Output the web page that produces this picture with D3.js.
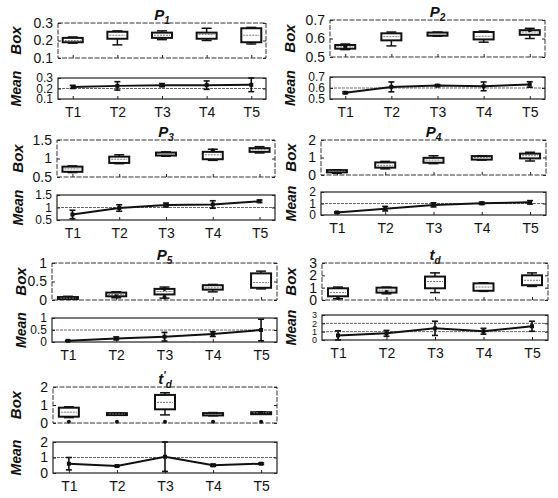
<!DOCTYPE html>
<html>
<head>
<meta charset="utf-8">
<script src="https://cdn.jsdelivr.net/npm/d3@7"></script>
<style>
  body { margin: 0; background: #fff; }
  svg { font-family: "Liberation Sans", Arial, sans-serif; }
</style>
</head>
<body>
<svg></svg>
<script>
let width = 558,
height = 498;

// categories
let periods = ["T1", "T2", "T3", "T4", "T5"];

// box stats per period: [lower whisker, q1, median, q3, upper whisker]
let boxP1 = [[0.185, 0.19, 0.20, 0.215, 0.22], [0.175, 0.21, 0.23, 0.25, 0.255], [0.205, 0.215, 0.23, 0.245, 0.255], [0.20, 0.21, 0.235, 0.245, 0.27], [0.18, 0.19, 0.23, 0.27, 0.275]];
let boxP2 = [[0.54, 0.545, 0.555, 0.565, 0.57], [0.56, 0.59, 0.61, 0.628, 0.635], [0.612, 0.615, 0.625, 0.632, 0.635], [0.58, 0.595, 0.612, 0.635, 0.64], [0.60, 0.62, 0.635, 0.645, 0.655]];
let boxP3 = [[0.62, 0.64, 0.72, 0.78, 0.80], [0.86, 0.88, 0.98, 1.05, 1.1], [1.06, 1.08, 1.12, 1.16, 1.18], [0.95, 0.98, 1.1, 1.18, 1.25], [1.15, 1.18, 1.24, 1.28, 1.32]];
let boxP4 = [[0.1, 0.15, 0.22, 0.28, 0.3], [0.35, 0.42, 0.55, 0.72, 0.78], [0.65, 0.7, 0.85, 0.98, 1.1], [0.85, 0.88, 1.0, 1.08, 1.1], [0.8, 0.95, 1.1, 1.22, 1.3]];
let boxP5 = [[0.02, 0.03, 0.05, 0.08, 0.1], [0.06, 0.1, 0.15, 0.2, 0.22], [0.05, 0.15, 0.23, 0.3, 0.35], [0.22, 0.28, 0.33, 0.4, 0.42], [0.3, 0.33, 0.47, 0.72, 0.78]];
let boxTd = [[0.1, 0.3, 0.6, 0.95, 1.05], [0.5, 0.6, 0.8, 1.0, 1.05], [0.6, 0.95, 1.5, 1.9, 2.2], [0.7, 0.75, 1.05, 1.35, 1.4], [1.1, 1.2, 1.6, 2.0, 2.2]];
let boxTpd = [[0.3, 0.35, 0.6, 0.85, 0.9], [0.44, 0.45, 0.5, 0.55, 0.56], [0.45, 0.76, 1.15, 1.56, 1.68], [0.4, 0.42, 0.48, 0.55, 0.58], [0.52, 0.53, 0.57, 0.6, 0.62]];

// outlier points: [period, value]
let outP1 = [];
let outP2 = [["T1", 0.555], ["T5", 0.645]];
let outP3 = [["T4", 1.22]];
let outP4 = [];
let outP5 = [["T2", 0.1], ["T3", 0.08], ["T3", 0.3]];
let outTd = [["T1", 0.15], ["T2", 0.65]];
let outTpd = [["T1", 0.07], ["T2", 0.07], ["T3", 0.07], ["T4", 0.07], ["T5", 0.07], ["T5", 0.57]];

// means and error half-widths
let meanP1 = [0.215, 0.225, 0.232, 0.232, 0.235];
let errP1 = [0.015, 0.04, 0.015, 0.04, 0.065];
let meanP2 = [0.557, 0.61, 0.622, 0.615, 0.632];
let errP2 = [0.008, 0.045, 0.008, 0.04, 0.025];
let meanP3 = [0.72, 0.98, 1.1, 1.12, 1.25];
let errP3 = [0.17, 0.13, 0.08, 0.15, 0.05];
let meanP4 = [0.22, 0.55, 0.88, 1.02, 1.1];
let errP4 = [0.05, 0.2, 0.18, 0.1, 0.15];
let meanP5 = [0.05, 0.15, 0.22, 0.33, 0.5];
let errP5 = [0.02, 0.06, 0.18, 0.1, 0.45];
let meanTd = [0.55, 0.8, 1.4, 1.05, 1.65];
let errTd = [0.55, 0.35, 0.85, 0.35, 0.6];
let meanTpd = [0.6, 0.45, 1.05, 0.5, 0.6];
let errTpd = [0.4, 0.04, 0.95, 0.07, 0.05];

// y ticks
let ticksP1 = [0.1, 0.2, 0.3];
let ticksP2 = [0.5, 0.6, 0.7];
let ticksP3 = [0.5, 1, 1.5];
let ticksP4 = [0, 1, 2];
let ticksP5 = [0, 0.5, 1];
let ticksTd = [0, 1, 2, 3];
let ticksTpd = [0, 1, 2];

// titles: [main letter, subscript, prime]
let titles = [["P", "1", false], ["P", "2", false], ["P", "3", false], ["P", "4", false], ["P", "5", false], ["t", "d", false], ["t", "d", true]];

// panel frames: left, right, box top/bottom, mean top/bottom, label x, mean tick font
let layout = [
  [58, 266, 23, 58, 78, 99, 16, 12],
  [330, 545, 20, 57, 77, 99, 290, 12],
  [57, 275, 140, 177, 195, 220, 18, 12],
  [321, 546, 140, 175, 192, 215, 291, 12],
  [52, 277, 263, 300, 318, 342, 21, 12],
  [322, 548, 263, 300, 315, 340, 291, 9],
  [53, 277, 387, 423, 442, 473, 16, 14]
];

let panels = [
  { box: boxP1, out: outP1, mean: meanP1, err: errP1, ticks: ticksP1 },
  { box: boxP2, out: outP2, mean: meanP2, err: errP2, ticks: ticksP2 },
  { box: boxP3, out: outP3, mean: meanP3, err: errP3, ticks: ticksP3 },
  { box: boxP4, out: outP4, mean: meanP4, err: errP4, ticks: ticksP4 },
  { box: boxP5, out: outP5, mean: meanP5, err: errP5, ticks: ticksP5 },
  { box: boxTd, out: outTd, mean: meanTd, err: errTd, ticks: ticksTd },
  { box: boxTpd, out: outTpd, mean: meanTpd, err: errTpd, ticks: ticksTpd }
];

let svg = d3.select("svg")
  .attr("width", width)
  .attr("height", height);

function styleAxis(g, size) {
  g.select(".domain").remove();
  g.selectAll(".tick line").attr("stroke", "#222");
  g.selectAll(".tick text")
    .attr("fill", "#111")
    .style("font-size", (size || 14) + "px");
}

panels.forEach((p, i) => {
  let [L, R, bTop, bBot, mTop, mBot, labX, mFont] = layout[i];
  let domain = [p.ticks[0], p.ticks[p.ticks.length - 1]];
  let g = svg.append("g");

  let xScale = d3.scalePoint().domain(periods).range([L, R]).padding(0.33);
  let yBox = d3.scaleLinear().domain(domain).range([bBot, bTop]);
  let yMean = d3.scaleLinear().domain(domain).range([mBot, mTop]);
  let fmt = d => String(d);

  // title
  let t = titles[i];
  let title = g.append("text")
    .attr("x", (L + R) / 2)
    .attr("y", bTop - 3)
    .attr("text-anchor", "middle")
    .style("font-weight", "bold")
    .style("font-style", "italic")
    .style("font-size", "15px")
    .attr("fill", "#111");
  title.append("tspan").text(t[0]);
  if (t[2]) title.append("tspan").attr("dy", -5).style("font-size", "10px").text("'");
  title.append("tspan").attr("dy", t[2] ? 9 : 4).style("font-size", "10px").text(t[1]);

  // ---- box panel ----
  g.append("g")
    .attr("transform", `translate(${L},0)`)
    .call(d3.axisLeft(yBox).tickValues(p.ticks).tickFormat(fmt).tickSizeInner(-3).tickSizeOuter(0).tickPadding(5))
    .call(styleAxis);
  g.append("g")
    .attr("transform", `translate(${R},0)`)
    .call(d3.axisRight(yBox).tickValues(p.ticks).tickFormat("").tickSizeInner(-3).tickSizeOuter(0))
    .call(styleAxis);
  g.append("g")
    .attr("transform", `translate(0,${bBot})`)
    .call(d3.axisBottom(xScale).tickFormat("").tickSizeInner(-3).tickSizeOuter(0))
    .call(styleAxis);

  g.append("rect")
    .attr("x", L).attr("y", bTop)
    .attr("width", R - L).attr("height", bBot - bTop)
    .attr("fill", "none")
    .attr("stroke", "#333")
    .attr("stroke-width", 1)
    .attr("stroke-dasharray", "5,1.5");

  let bw = 20;
  let boxes = g.append("g").selectAll("g")
    .data(p.box.map((b, k) => ({ t: periods[k], s: b })))
    .enter().append("g");
  boxes.append("line")
    .attr("x1", d => xScale(d.t)).attr("x2", d => xScale(d.t))
    .attr("y1", d => yBox(d.s[0])).attr("y2", d => yBox(d.s[4]))
    .attr("stroke", "#111").attr("stroke-width", 1.5);
  boxes.selectAll(".cap")
    .data(d => [[d.t, d.s[0]], [d.t, d.s[4]]])
    .enter().append("line")
    .attr("x1", d => xScale(d[0]) - 5).attr("x2", d => xScale(d[0]) + 5)
    .attr("y1", d => yBox(d[1])).attr("y2", d => yBox(d[1]))
    .attr("stroke", "#111").attr("stroke-width", 1.5);
  boxes.append("rect")
    .attr("x", d => xScale(d.t) - bw / 2)
    .attr("y", d => yBox(d.s[3]))
    .attr("width", bw)
    .attr("height", d => Math.max(2, yBox(d.s[1]) - yBox(d.s[3])))
    .attr("fill", "#fff")
    .attr("stroke", "#111")
    .attr("stroke-width", 2);
  boxes.append("line")
    .attr("x1", d => xScale(d.t) - bw / 2 + 2).attr("x2", d => xScale(d.t) + bw / 2 - 2)
    .attr("y1", d => yBox(d.s[2])).attr("y2", d => yBox(d.s[2]))
    .attr("stroke", "#777").attr("stroke-width", 1)
    .attr("stroke-dasharray", "2,1");

  g.append("g").selectAll("circle")
    .data(p.out)
    .enter().append("circle")
    .attr("cx", d => xScale(d[0]))
    .attr("cy", d => yBox(d[1]))
    .attr("r", 2)
    .attr("fill", "#111");

  // ---- mean panel ----
  g.append("g").selectAll("line")
    .data(p.ticks.slice(1, -1))
    .enter().append("line")
    .attr("x1", L).attr("x2", R)
    .attr("y1", d => yMean(d)).attr("y2", d => yMean(d))
    .attr("stroke", "#666")
    .attr("stroke-width", 1)
    .attr("stroke-dasharray", "3,1");

  g.append("g")
    .attr("transform", `translate(${L},0)`)
    .call(d3.axisLeft(yMean).tickValues(p.ticks).tickFormat(fmt).tickSizeInner(-3).tickSizeOuter(0).tickPadding(5))
    .call(styleAxis, mFont);
  g.append("g")
    .attr("transform", `translate(${R},0)`)
    .call(d3.axisRight(yMean).tickValues(p.ticks).tickFormat("").tickSizeInner(-3).tickSizeOuter(0))
    .call(styleAxis);
  g.append("g")
    .attr("transform", `translate(0,${mBot})`)
    .call(d3.axisBottom(xScale).tickSizeInner(-3).tickSizeOuter(0).tickPadding(8))
    .call(styleAxis);

  g.append("rect")
    .attr("x", L).attr("y", mTop)
    .attr("width", R - L).attr("height", mBot - mTop)
    .attr("fill", "none")
    .attr("stroke", "#222")
    .attr("stroke-width", 1.2);

  let md = p.mean.map((m, k) => ({ t: periods[k], m: m, e: p.err[k] }));
  let clampY = v => yMean(Math.max(domain[0], Math.min(domain[1], v)));

  g.append("path")
    .datum(md)
    .attr("fill", "none")
    .attr("stroke", "#111")
    .attr("stroke-width", 2)
    .attr("d", d3.line().x(d => xScale(d.t)).y(d => yMean(d.m)));

  let eb = g.append("g").selectAll("g").data(md).enter().append("g");
  eb.append("line")
    .attr("x1", d => xScale(d.t)).attr("x2", d => xScale(d.t))
    .attr("y1", d => clampY(d.m - d.e)).attr("y2", d => clampY(d.m + d.e))
    .attr("stroke", "#111").attr("stroke-width", 1.6);
  eb.selectAll(".cap")
    .data(d => [[d.t, d.m - d.e], [d.t, d.m + d.e]])
    .enter().append("line")
    .attr("x1", d => xScale(d[0]) - 3).attr("x2", d => xScale(d[0]) + 3)
    .attr("y1", d => clampY(d[1])).attr("y2", d => clampY(d[1]))
    .attr("stroke", "#111").attr("stroke-width", 1.6);
  eb.append("rect")
    .attr("x", d => xScale(d.t) - 2).attr("y", d => yMean(d.m) - 2)
    .attr("width", 4).attr("height", 4)
    .attr("fill", "#111");

  // axis labels
  g.append("text")
    .attr("transform", `translate(${labX},${(bTop + bBot) / 2}) rotate(-90)`)
    .attr("text-anchor", "middle")
    .attr("dy", "0.35em")
    .style("font-weight", "bold")
    .style("font-style", "italic")
    .style("font-size", "15px")
    .attr("fill", "#111")
    .text("Box");
  g.append("text")
    .attr("transform", `translate(${labX},${(mTop + mBot) / 2}) rotate(-90)`)
    .attr("text-anchor", "middle")
    .attr("dy", "0.35em")
    .style("font-weight", "bold")
    .style("font-style", "italic")
    .style("font-size", "14px")
    .attr("fill", "#111")
    .text("Mean");
});
</script>
</body>
</html>
